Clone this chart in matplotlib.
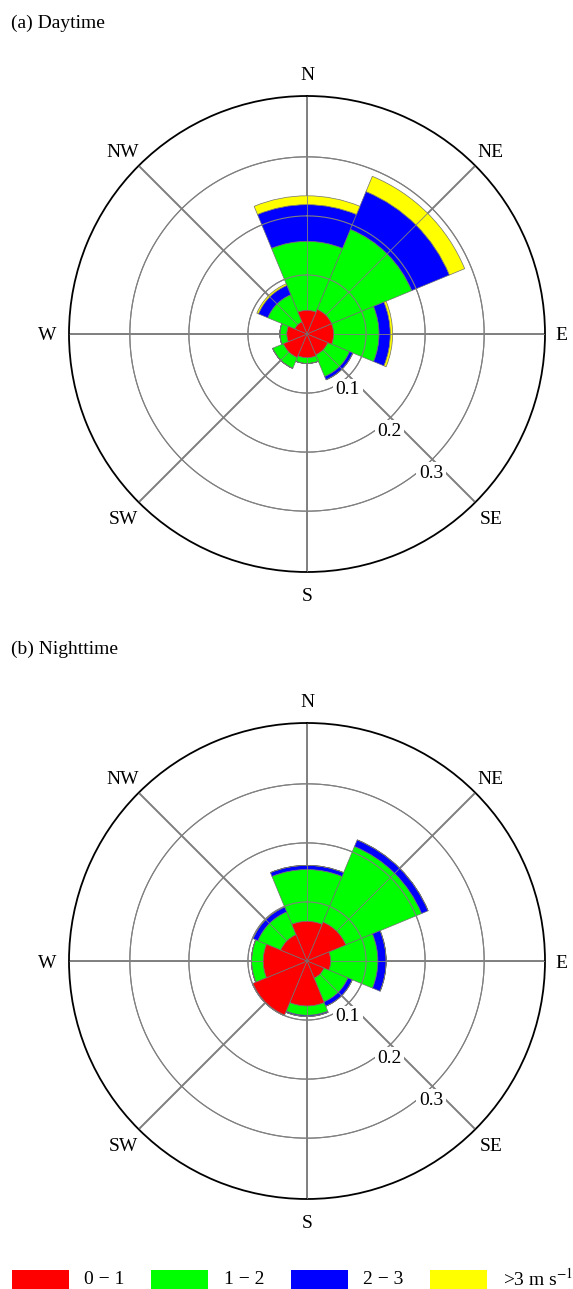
import numpy as np
import matplotlib
matplotlib.use('Agg')
import matplotlib.pyplot as plt
from matplotlib.patches import Rectangle

plt.rcParams['font.family'] = ['Liberation Serif', 'DejaVu Serif']
plt.rcParams['mathtext.fontset'] = 'stix'

W, H = 573, 1289
RMAX = 0.403
FS = 14

directions = ['N', 'NE', 'E', 'SE', 'S', 'SW', 'W', 'NW']
speed_labels = ['0 \u2212 1', '1 \u2212 2', '2 \u2212 3', r'>3 m s$^{-1}$']
colors = ['#ff0000', '#00ff00', '#0000ff', '#ffff00']
rings = [0.1, 0.2, 0.3]
ring_labels = ['0.1', '0.2', '0.3']

# frequency per speed class, order follows directions
day_0_1 = [0.040, 0.045, 0.045, 0.038, 0.040, 0.043, 0.034, 0.022]
day_1_2 = [0.117, 0.147, 0.077, 0.040, 0.010, 0.020, 0.012, 0.050]
day_2_3 = [0.062, 0.069, 0.019, 0.006, 0.000, 0.000, 0.000, 0.017]
day_3up = [0.015, 0.028, 0.004, 0.000, 0.000, 0.000, 0.000, 0.003]

night_0_1 = [0.067, 0.071, 0.040, 0.031, 0.076, 0.099, 0.074, 0.048]
night_1_2 = [0.088, 0.139, 0.080, 0.044, 0.016, 0.001, 0.020, 0.042]
night_2_3 = [0.007, 0.012, 0.014, 0.008, 0.002, 0.000, 0.000, 0.009]
night_3up = [0.000, 0.000, 0.000, 0.000, 0.000, 0.000, 0.000, 0.000]


def wind_rose(cx, cy, radius, classes):
    ax = fig.add_axes([(cx - radius) / W, 1 - (cy + radius) / H,
                       2 * radius / W, 2 * radius / H], polar=True)
    ax.set_theta_zero_location('N')
    ax.set_theta_direction(-1)
    theta = np.deg2rad(np.arange(len(directions)) * 45)

    bottom = np.zeros(len(directions))
    for i, (vals, c) in enumerate(zip(classes, colors)):
        vals = np.array(vals)
        # the red core sits on top of the grid, the other classes under it
        ax.bar(theta, vals, width=np.pi / 4, bottom=bottom, color=c,
               edgecolor='#707070', linewidth=0.5, zorder=5 if i == 0 else 2)
        bottom += vals

    ax.set_ylim(0, RMAX)
    ax.set_axisbelow(True)
    ax.set_xticks(theta)
    ax.set_xticklabels([])
    ax.set_yticks(rings)
    ax.set_yticklabels([])
    ax.xaxis.grid(True, color='#808080', linewidth=1.4, linestyle='-')
    ax.yaxis.grid(True, color='#808080', linewidth=0.8, linestyle='-')
    ax.tick_params(length=0)
    ax.spines['polar'].set_color('black')
    ax.spines['polar'].set_linewidth(1.3)

    # thinner grid seen through the filled sectors
    ax.vlines(theta, 0, RMAX, color='#808080', linewidth=0.6, zorder=3)
    circle = np.linspace(0, 2 * np.pi, 361)
    for r in rings:
        ax.plot(circle, np.full_like(circle, r), color='#808080', linewidth=0.8, zorder=3)
    ax.set_ylim(0, RMAX)

    for t, name in zip(theta, directions):
        r = RMAX * (1.07 if name == 'E' else 1.093)
        ax.annotate(name, xy=(t, r), xytext=(0, -2), textcoords='offset pixels',
                    ha='center', va='center', fontsize=FS, annotation_clip=False)

    for r, lab in zip(rings, ring_labels):
        ax.annotate(lab, xy=(np.pi * 0.75, r), xytext=(-1, -14),
                    textcoords='offset pixels', ha='center', va='center',
                    fontsize=FS, zorder=6,
                    bbox=dict(facecolor='white', edgecolor='none', pad=2))
    return ax


fig = plt.figure(figsize=(W / 100, H / 100), dpi=100)

wind_rose(307, 334, 238, [day_0_1, day_1_2, day_2_3, day_3up])
wind_rose(307, 961, 238, [night_0_1, night_1_2, night_2_3, night_3up])

# titles and legend strip in pixel coordinates
over = fig.add_axes([0, 0, 1, 1], facecolor='none')
over.set_xlim(0, W)
over.set_ylim(H, 0)
over.axis('off')
over.text(11, 23, '(a) Daytime', fontsize=FS, ha='left', va='center')
over.text(11, 649, '(b) Nighttime', fontsize=FS, ha='left', va='center')

swatch_x = [12, 151, 291, 430]
label_x = [84, 224, 363, 503]
for x, lx, c, lab in zip(swatch_x, label_x, colors, speed_labels):
    over.add_patch(Rectangle((x, 1270), 57, 20, facecolor=c, edgecolor='none'))
    over.text(lx, 1279, lab, fontsize=FS, ha='left', va='center')

fig.savefig('out.png', dpi=100)
